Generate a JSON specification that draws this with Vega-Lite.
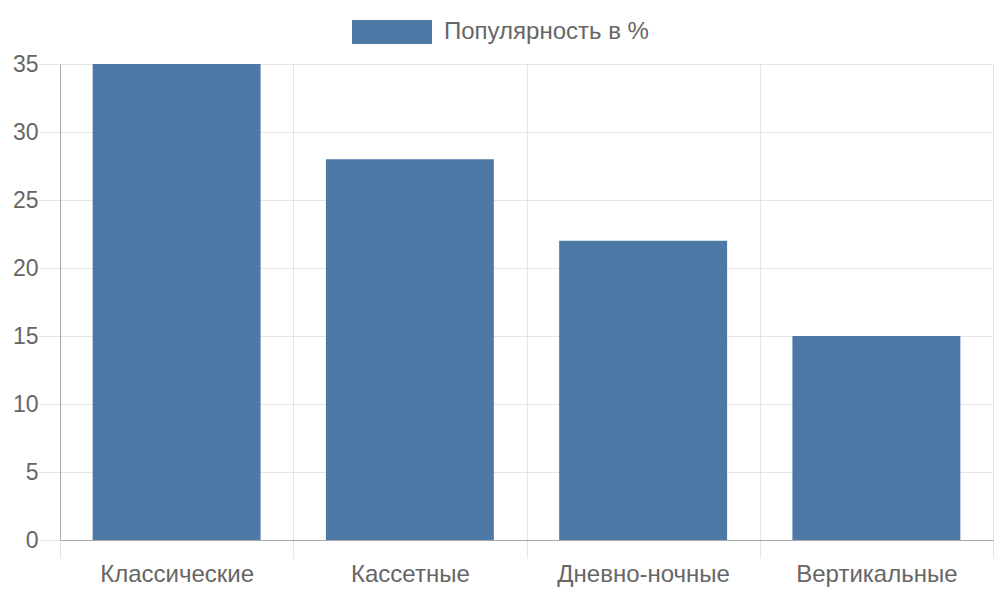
{
  "$schema": "https://vega.github.io/schema/vega-lite/v6.json",
  "width": 933,
  "height": 476,
  "autosize": {"type": "none"},
  "padding": {"left": 60, "top": 64, "right": 7, "bottom": 60},
  "background": "white",
  "data": {
    "values": [
      {"type": "Классические", "value": 35, "series": "Популярность в %"},
      {"type": "Кассетные", "value": 28, "series": "Популярность в %"},
      {"type": "Дневно-ночные", "value": 22, "series": "Популярность в %"},
      {"type": "Вертикальные", "value": 15, "series": "Популярность в %"}
    ]
  },
  "mark": {"type": "bar", "color": "#4e79a7", "width": {"band": 0.72}},
  "encoding": {
    "x": {
      "field": "type",
      "type": "nominal",
      "sort": null,
      "scale": {"paddingInner": 0, "paddingOuter": 0},
      "axis": {
        "title": null,
        "labelAngle": 0,
        "tickBand": "extent",
        "grid": true,
        "gridColor": "#e5e5e5",
        "tickColor": "#e5e5e5",
        "tickSize": 18,
        "domainColor": "#a8a8a8",
        "labelPadding": 4,
        "labelFont": "Liberation Sans",
        "labelFontSize": 24,
        "labelColor": "#666666"
      }
    },
    "y": {
      "field": "value",
      "type": "quantitative",
      "scale": {"domain": [0, 35], "nice": false},
      "axis": {
        "title": null,
        "values": [0, 5, 10, 15, 20, 25, 30, 35],
        "grid": true,
        "gridColor": "#e5e5e5",
        "tickColor": "#e5e5e5",
        "tickSize": 21,
        "domainColor": "#a8a8a8",
        "labelPadding": 1,
        "labelFont": "Liberation Sans",
        "labelFontSize": 23,
        "labelColor": "#666666"
      }
    },
    "color": {
      "field": "series",
      "type": "nominal",
      "scale": {"range": ["#4e79a7"]},
      "legend": {
        "title": null,
        "orient": "none",
        "legendX": 292,
        "legendY": -72,
        "symbolType": "M-1,-0.3H1V0.3H-1Z",
        "symbolSize": 6400,
        "symbolStrokeWidth": 0,
        "symbolOpacity": 1,
        "labelFont": "Liberation Sans",
        "labelFontSize": 24,
        "labelColor": "#666666",
        "labelOffset": 12,
        "labelLimit": 0
      }
    }
  },
  "config": {"view": {"stroke": null}}
}
